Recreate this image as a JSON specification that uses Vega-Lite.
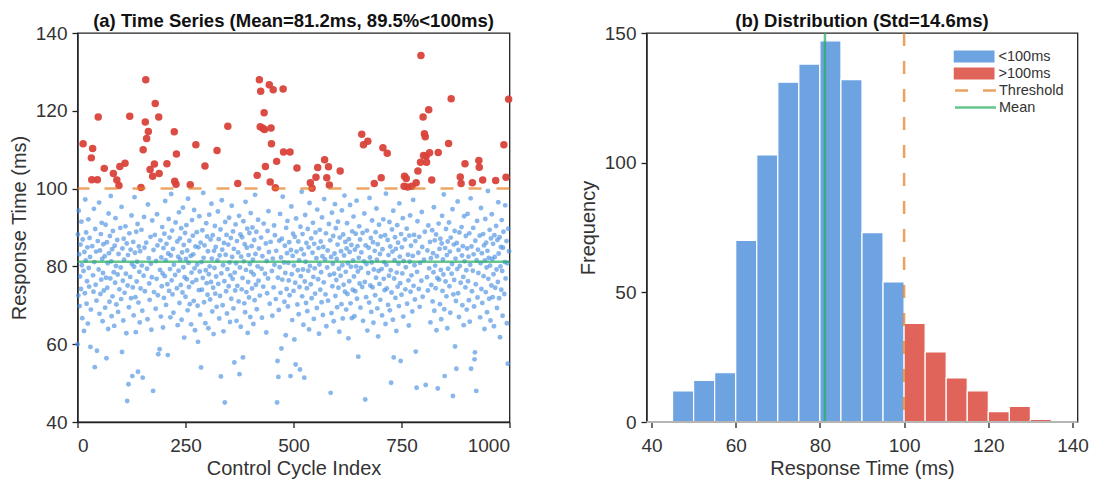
{
"$schema": "https://vega.github.io/schema/vega-lite/v6.json",
"autosize": {"type": "pad"},
"padding": {"left": 8.5, "top": 11, "right": 5, "bottom": 0},
"background": "white",
"config": {
 "font": "Liberation Sans",
 "view": {"stroke": "#222222", "strokeWidth": 1.3},
 "axis": {"labelFont": "Liberation Sans", "labelFontSize": 19, "labelColor": "#333333", "titleFont": "Liberation Sans", "titleFontSize": 20, "titleFontWeight": "normal", "titleColor": "#333333", "tickColor": "#222222", "domainColor": "#222222", "tickSize": 5.5, "tickWidth": 1.3, "domainWidth": 1.3, "labelPadding": 5, "grid": false, "titlePadding": 6},
 "axisX": {"labelPadding": 9, "titlePadding": 3},
 "title": {"font": "Liberation Sans", "fontSize": 18.5, "fontWeight": "bold", "color": "#111111", "offset": -6.5, "frame": "group"},
 "legend": {"padding": 0}
},
"datasets": {
"hist": [
{"b0":45,"b1":50,"n":12,"g":"<100ms"},{"b0":50,"b1":55,"n":16,"g":"<100ms"},{"b0":55,"b1":60,"n":19,"g":"<100ms"},{"b0":60,"b1":65,"n":70,"g":"<100ms"},{"b0":65,"b1":70,"n":103,"g":"<100ms"},{"b0":70,"b1":75,"n":131,"g":"<100ms"},{"b0":75,"b1":80,"n":138,"g":"<100ms"},{"b0":80,"b1":85,"n":147,"g":"<100ms"},{"b0":85,"b1":90,"n":132,"g":"<100ms"},{"b0":90,"b1":95,"n":73,"g":"<100ms"},{"b0":95,"b1":100,"n":54,"g":"<100ms"},{"b0":100,"b1":105,"n":38,"g":">100ms"},{"b0":105,"b1":110,"n":27,"g":">100ms"},{"b0":110,"b1":115,"n":17,"g":">100ms"},{"b0":115,"b1":120,"n":12,"g":">100ms"},{"b0":120,"b1":125,"n":4,"g":">100ms"},{"b0":125,"b1":130,"n":6,"g":">100ms"},{"b0":130,"b1":135,"n":1,"g":">100ms"}
],
"ts": [
{"x":0,"y":60},{"x":1,"y":88.2},{"x":2,"y":72.5},{"x":3,"y":94.3},{"x":4,"y":83.1},{"x":5,"y":69.8},{"x":6,"y":77.4},{"x":7,"y":85.6},{"x":8,"y":74.2},{"x":9,"y":91.5},{"x":10,"y":80.3},{"x":11,"y":66.7},{"x":12,"y":86.9},{"x":13,"y":111.5},{"x":14,"y":78.8},{"x":15,"y":63.4},{"x":16,"y":83.7},{"x":17,"y":73.1},{"x":18,"y":97.2},{"x":19,"y":81.5},
{"x":20,"y":88.7},{"x":21,"y":70.4},{"x":22,"y":76.2},{"x":23,"y":84.9},{"x":24,"y":65.3},{"x":25,"y":92.1},{"x":26,"y":79.6},{"x":27,"y":74.8},{"x":28,"y":87.3},{"x":29,"y":82.4},{"x":30,"y":59.3},{"x":31,"y":68.9},{"x":32,"y":107.9},{"x":33,"y":102.3},{"x":34,"y":85.2},{"x":35,"y":110.3},{"x":36,"y":77.7},{"x":37,"y":73.5},{"x":38,"y":94.8},{"x":39,"y":81.1},
{"x":40,"y":54.1},{"x":41,"y":89.6},{"x":42,"y":75.3},{"x":43,"y":83.8},{"x":44,"y":71.2},{"x":45,"y":58.3},{"x":46,"y":102.3},{"x":47,"y":86.5},{"x":48,"y":118.4},{"x":49,"y":79.2},{"x":50,"y":96.4},{"x":51,"y":67.8},{"x":52,"y":84.1},{"x":53,"y":72.9},{"x":54,"y":88.3},{"x":55,"y":76.6},{"x":56,"y":91.2},{"x":57,"y":81.9},{"x":58,"y":65.9},{"x":59,"y":78.3},
{"x":60,"y":85.7},{"x":61,"y":73.8},{"x":62,"y":105.2},{"x":63,"y":82.6},{"x":64,"y":69.4},{"x":65,"y":90.7},{"x":66,"y":77.1},{"x":67,"y":56.4},{"x":68,"y":86.2},{"x":69,"y":74.5},{"x":70,"y":80.8},{"x":71,"y":63.9},{"x":72,"y":93.6},{"x":73,"y":83.4},{"x":74,"y":70.9},{"x":75,"y":87.8},{"x":76,"y":76.9},{"x":77,"y":98.1},{"x":78,"y":81.3},{"x":79,"y":67.2},
{"x":80,"y":84.4},{"x":81,"y":72.3},{"x":82,"y":89.1},{"x":83,"y":103.9},{"x":84,"y":78.5},{"x":85,"y":64.7},{"x":86,"y":85.3},{"x":87,"y":75.8},{"x":88,"y":92.4},{"x":89,"y":80.1},{"x":90,"y":70.2},{"x":91,"y":102.2},{"x":92,"y":86.8},{"x":93,"y":77.9},{"x":94,"y":68.3},{"x":95,"y":83.2},{"x":96,"y":100.8},{"x":97,"y":74.1},{"x":98,"y":105.7},{"x":99,"y":89.9},
{"x":100,"y":79.7},{"x":101,"y":71.6},{"x":102,"y":95.3},{"x":103,"y":58},{"x":104,"y":84.6},{"x":105,"y":76.3},{"x":106,"y":66.1},{"x":107,"y":87.1},{"x":108,"y":81.7},{"x":109,"y":73.2},{"x":110,"y":106.5},{"x":111,"y":90.3},{"x":112,"y":78.1},{"x":113,"y":62.8},{"x":114,"y":85.9},{"x":115,"y":45.4},{"x":116,"y":75.1},{"x":117,"y":82.9},{"x":118,"y":49.7},{"x":119,"y":69.5},
{"x":120,"y":88.5},{"x":121,"y":118.6},{"x":122,"y":77.3},{"x":123,"y":84.3},{"x":124,"y":71.8},{"x":125,"y":93.1},{"x":126,"y":80.6},{"x":127,"y":51.8},{"x":128,"y":74.6},{"x":129,"y":86.3},{"x":130,"y":67.4},{"x":131,"y":79.9},{"x":132,"y":97.8},{"x":133,"y":83.5},{"x":134,"y":72.1},{"x":135,"y":63.1},{"x":136,"y":88.9},{"x":137,"y":76.1},{"x":138,"y":81.2},{"x":139,"y":90.9},
{"x":140,"y":52.9},{"x":141,"y":70.7},{"x":142,"y":85.1},{"x":143,"y":78.6},{"x":144,"y":65.6},{"x":145,"y":83.9},{"x":146,"y":74.3},{"x":147,"y":100.3},{"x":148,"y":89.4},{"x":149,"y":80.2},{"x":150,"y":68.6},{"x":151,"y":51.4},{"x":152,"y":110},{"x":153,"y":77.6},{"x":154,"y":92.7},{"x":155,"y":84.8},{"x":156,"y":73.6},{"x":157,"y":117.1},{"x":158,"y":128},{"x":159,"y":86.1},
{"x":160,"y":112.9},{"x":161,"y":79.4},{"x":162,"y":66.4},{"x":163,"y":95.9},{"x":164,"y":114.7},{"x":165,"y":82.1},{"x":166,"y":75.6},{"x":167,"y":71.4},{"x":168,"y":104.9},{"x":169,"y":87.6},{"x":170,"y":80.7},{"x":171,"y":63.7},{"x":172,"y":77.2},{"x":173,"y":91.8},{"x":174,"y":103.2},{"x":175,"y":48},{"x":176,"y":84.2},{"x":177,"y":73.4},{"x":178,"y":106.3},{"x":179,"y":88.1},
{"x":180,"y":121.9},{"x":181,"y":69.1},{"x":182,"y":81.4},{"x":183,"y":76.8},{"x":184,"y":93.4},{"x":185,"y":85.4},{"x":186,"y":72.6},{"x":187,"y":57.4},{"x":188,"y":118.4},{"x":189,"y":103.9},{"x":190,"y":58.7},{"x":191,"y":79.1},{"x":192,"y":86.7},{"x":193,"y":67.1},{"x":194,"y":82.3},{"x":195,"y":74.9},{"x":196,"y":90.1},{"x":197,"y":78.2},{"x":198,"y":64.3},{"x":199,"y":84.7},
{"x":200,"y":71.9},{"x":201,"y":88.4},{"x":202,"y":77.5},{"x":203,"y":96.8},{"x":204,"y":81.6},{"x":205,"y":70.1},{"x":206,"y":85.8},{"x":207,"y":106.4},{"x":208,"y":75.4},{"x":209,"y":57.2},{"x":210,"y":83.3},{"x":211,"y":92.2},{"x":212,"y":73.7},{"x":213,"y":87.4},{"x":214,"y":79.3},{"x":215,"y":66.9},{"x":216,"y":82.8},{"x":217,"y":98.6},{"x":218,"y":76.4},{"x":219,"y":89.2},
{"x":220,"y":72.8},{"x":221,"y":84.5},{"x":222,"y":68.1},{"x":223,"y":80.4},{"x":224,"y":114.6},{"x":225,"y":101.9},{"x":226,"y":77.8},{"x":227,"y":91.3},{"x":228,"y":101.1},{"x":229,"y":108.9},{"x":230,"y":74.4},{"x":231,"y":86.4},{"x":232,"y":64.9},{"x":233,"y":82.5},{"x":234,"y":78.9},{"x":235,"y":93.9},{"x":236,"y":70.6},{"x":237,"y":87.2},{"x":238,"y":81.8},{"x":239,"y":75.2},
{"x":240,"y":89.8},{"x":241,"y":66.3},{"x":242,"y":83.6},{"x":243,"y":73.3},{"x":244,"y":95.1},{"x":245,"y":79.8},{"x":246,"y":85.5},{"x":247,"y":61.7},{"x":248,"y":77.2},{"x":249,"y":88.6},{"x":250,"y":72.2},{"x":251,"y":81.9},{"x":252,"y":90.6},{"x":253,"y":76.7},{"x":254,"y":84.1},{"x":255,"y":68.7},{"x":256,"y":97.4},{"x":257,"y":80.9},{"x":258,"y":74.7},{"x":259,"y":86.6},
{"x":260,"y":70.3},{"x":261,"y":101},{"x":262,"y":82.7},{"x":263,"y":65.1},{"x":264,"y":78.4},{"x":265,"y":91.9},{"x":266,"y":75.9},{"x":267,"y":87.9},{"x":268,"y":83.1},{"x":269,"y":71.1},{"x":270,"y":94.5},{"x":271,"y":79.5},{"x":272,"y":63.6},{"x":273,"y":85.1},{"x":274,"y":111.3},{"x":275,"y":76.5},{"x":276,"y":88.8},{"x":277,"y":80.5},{"x":278,"y":69.9},{"x":279,"y":60.6},
{"x":280,"y":84.9},{"x":281,"y":73.9},{"x":282,"y":92.9},{"x":283,"y":78.7},{"x":284,"y":67.6},{"x":285,"y":86.1},{"x":286,"y":54},{"x":287,"y":81.1},{"x":288,"y":74},{"x":289,"y":89.3},{"x":290,"y":77},{"x":291,"y":98.9},{"x":292,"y":82.2},{"x":293,"y":70.8},{"x":294,"y":85.4},{"x":295,"y":105.8},{"x":296,"y":65.4},{"x":297,"y":79},{"x":298,"y":91.1},{"x":299,"y":75.7},
{"x":300,"y":87.7},{"x":301,"y":72.7},{"x":302,"y":83.9},{"x":303,"y":64.1},{"x":304,"y":78},{"x":305,"y":93.3},{"x":306,"y":80},{"x":307,"y":71.5},{"x":308,"y":86.9},{"x":309,"y":76},{"x":310,"y":96.1},{"x":311,"y":82},{"x":312,"y":68.4},{"x":313,"y":88},{"x":314,"y":74.5},{"x":315,"y":62.6},{"x":316,"y":84},{"x":317,"y":79.6},{"x":318,"y":90.4},{"x":319,"y":73},
{"x":320,"y":85},{"x":321,"y":77.4},{"x":322,"y":69.6},{"x":323,"y":109.8},{"x":324,"y":81.5},{"x":325,"y":94.1},{"x":326,"y":75.5},{"x":327,"y":87},{"x":328,"y":66.6},{"x":329,"y":82.8},{"x":330,"y":72.4},{"x":331,"y":89.5},{"x":332,"y":51.7},{"x":333,"y":78.2},{"x":334,"y":97},{"x":335,"y":84.3},{"x":336,"y":70},{"x":337,"y":80.3},{"x":338,"y":63.3},{"x":339,"y":86},
{"x":340,"y":76.2},{"x":341,"y":45},{"x":342,"y":91.4},{"x":343,"y":83},{"x":344,"y":73.6},{"x":345,"y":88.1},{"x":346,"y":67.9},{"x":347,"y":79.3},{"x":348,"y":116},{"x":349,"y":85.6},{"x":350,"y":74.9},{"x":351,"y":92.5},{"x":352,"y":81},{"x":353,"y":65.7},{"x":354,"y":77.7},{"x":355,"y":87.3},{"x":356,"y":71.7},{"x":357,"y":95.6},{"x":358,"y":82.4},{"x":359,"y":76.8},
{"x":360,"y":89},{"x":361,"y":69.2},{"x":362,"y":84.5},{"x":363,"y":55.3},{"x":364,"y":78.4},{"x":365,"y":73.8},{"x":366,"y":90.8},{"x":367,"y":80.8},{"x":368,"y":66},{"x":369,"y":86.5},{"x":370,"y":75},{"x":371,"y":101.3},{"x":372,"y":83.6},{"x":373,"y":71},{"x":374,"y":93},{"x":375,"y":52.3},{"x":376,"y":79.7},{"x":377,"y":88.2},{"x":378,"y":64.5},{"x":379,"y":82.5},
{"x":380,"y":74.1},{"x":381,"y":87.5},{"x":382,"y":77},{"x":383,"y":56.6},{"x":384,"y":91.6},{"x":385,"y":81.3},{"x":386,"y":70.5},{"x":387,"y":85.7},{"x":388,"y":68.2},{"x":389,"y":96.6},{"x":390,"y":79.1},{"x":391,"y":73.4},{"x":392,"y":84.8},{"x":393,"y":89.7},{"x":394,"y":62.9},{"x":395,"y":76},{"x":396,"y":82.9},{"x":397,"y":72},{"x":398,"y":88.6},{"x":399,"y":80.6},
{"x":400,"y":67},{"x":401,"y":93.7},{"x":402,"y":78.6},{"x":403,"y":85.2},{"x":404,"y":74.3},{"x":405,"y":90},{"x":406,"y":81.7},{"x":407,"y":65.2},{"x":408,"y":77.9},{"x":409,"y":86.8},{"x":410,"y":71.3},{"x":411,"y":98.4},{"x":412,"y":83.2},{"x":413,"y":75.3},{"x":414,"y":88.9},{"x":415,"y":69},{"x":416,"y":103.4},{"x":417,"y":80},{"x":418,"y":92},{"x":419,"y":76.3},
{"x":420,"y":84.6},{"x":421,"y":128},{"x":422,"y":72.5},{"x":423,"y":115.9},{"x":424,"y":125},{"x":425,"y":87.4},{"x":426,"y":79.4},{"x":427,"y":66.8},{"x":428,"y":82.6},{"x":429,"y":115.5},{"x":430,"y":74.8},{"x":431,"y":91},{"x":432,"y":119.5},{"x":433,"y":115.2},{"x":434,"y":78.1},{"x":435,"y":105.7},{"x":436,"y":85.9},{"x":437,"y":63},{"x":438,"y":81.4},{"x":439,"y":73.1},
{"x":440,"y":89.1},{"x":441,"y":76.9},{"x":442,"y":94.2},{"x":443,"y":83.7},{"x":444,"y":126.7},{"x":445,"y":70.4},{"x":446,"y":101.7},{"x":447,"y":86.3},{"x":448,"y":115.6},{"x":449,"y":111.5},{"x":450,"y":78.8},{"x":451,"y":67.3},{"x":452,"y":82},{"x":453,"y":125.4},{"x":454,"y":74.6},{"x":455,"y":90.5},{"x":456,"y":80.4},{"x":457,"y":88},{"x":458,"y":100.2},{"x":459,"y":71.6},
{"x":460,"y":84},{"x":461,"y":107},{"x":462,"y":45},{"x":463,"y":55.7},{"x":464,"y":77.1},{"x":465,"y":51.6},{"x":466,"y":68.8},{"x":467,"y":86.6},{"x":468,"y":79.8},{"x":469,"y":93.5},{"x":470,"y":73.2},{"x":471,"y":82.3},{"x":472,"y":58.9},{"x":473,"y":87.1},{"x":474,"y":76.6},{"x":475,"y":97.9},{"x":476,"y":125.6},{"x":477,"y":109.4},{"x":478,"y":81},{"x":479,"y":70.9},
{"x":480,"y":85.3},{"x":481,"y":78.3},{"x":482,"y":62.3},{"x":483,"y":89.9},{"x":484,"y":74.2},{"x":485,"y":83.4},{"x":486,"y":91.7},{"x":487,"y":69.7},{"x":488,"y":80.9},{"x":489,"y":76.4},{"x":490,"y":86.2},{"x":491,"y":72.6},{"x":492,"y":109.4},{"x":493,"y":51.8},{"x":494,"y":84.2},{"x":495,"y":95.4},{"x":496,"y":78},{"x":497,"y":66.2},{"x":498,"y":82.7},{"x":499,"y":88.4},
{"x":500,"y":73.7},{"x":501,"y":80.2},{"x":502,"y":61.2},{"x":503,"y":87.6},{"x":504,"y":75.8},{"x":505,"y":54.8},{"x":506,"y":92.3},{"x":507,"y":83.8},{"x":508,"y":105.3},{"x":509,"y":70.2},{"x":510,"y":79},{"x":511,"y":86.4},{"x":512,"y":67.7},{"x":513,"y":81.6},{"x":514,"y":74.7},{"x":515,"y":53.5},{"x":516,"y":90.2},{"x":517,"y":77.5},{"x":518,"y":84.4},{"x":519,"y":99.2},
{"x":520,"y":72.3},{"x":521,"y":88.3},{"x":522,"y":79.2},{"x":523,"y":65},{"x":524,"y":83.1},{"x":525,"y":51.4},{"x":526,"y":76.1},{"x":527,"y":93.2},{"x":528,"y":81.2},{"x":529,"y":70.6},{"x":530,"y":86},{"x":531,"y":74.4},{"x":532,"y":68.5},{"x":533,"y":89.6},{"x":534,"y":78.9},{"x":535,"y":84.9},{"x":536,"y":63.8},{"x":537,"y":96.3},{"x":538,"y":80.1},{"x":539,"y":101.5},
{"x":540,"y":75.4},{"x":541,"y":87.2},{"x":542,"y":71.8},{"x":543,"y":100.1},{"x":544,"y":83.5},{"x":545,"y":91.2},{"x":546,"y":77.3},{"x":547,"y":66.5},{"x":548,"y":85.8},{"x":549,"y":79.5},{"x":550,"y":73},{"x":551,"y":88.7},{"x":552,"y":102.9},{"x":553,"y":82.1},{"x":554,"y":69.3},{"x":555,"y":94.6},{"x":556,"y":105.4},{"x":557,"y":76.7},{"x":558,"y":84.7},{"x":559,"y":62.7},
{"x":560,"y":80.5},{"x":561,"y":89.4},{"x":562,"y":74},{"x":563,"y":86.4},{"x":564,"y":78.5},{"x":565,"y":70.8},{"x":566,"y":92.6},{"x":567,"y":82.6},{"x":568,"y":67.5},{"x":569,"y":85},{"x":570,"y":75.9},{"x":571,"y":97.3},{"x":572,"y":107.4},{"x":573,"y":81.8},{"x":574,"y":72.8},{"x":575,"y":88.5},{"x":576,"y":64.6},{"x":577,"y":102.8},{"x":578,"y":79.7},{"x":579,"y":84.1},
{"x":580,"y":71.2},{"x":581,"y":105.6},{"x":582,"y":90.9},{"x":583,"y":100.9},{"x":584,"y":77.8},{"x":585,"y":86.7},{"x":586,"y":47.5},{"x":587,"y":82.4},{"x":588,"y":68},{"x":589,"y":93.8},{"x":590,"y":74.9},{"x":591,"y":80.7},{"x":592,"y":87.8},{"x":593,"y":65.9},{"x":594,"y":78.1},{"x":595,"y":83.3},{"x":596,"y":96},{"x":597,"y":72.4},{"x":598,"y":89.8},{"x":599,"y":76.5},
{"x":600,"y":81.9},{"x":601,"y":69.5},{"x":602,"y":85.6},{"x":603,"y":91.5},{"x":604,"y":74.5},{"x":605,"y":79.4},{"x":606,"y":63.2},{"x":607,"y":87.4},{"x":608,"y":104.5},{"x":609,"y":77.6},{"x":610,"y":83.9},{"x":611,"y":70.3},{"x":612,"y":94.4},{"x":613,"y":80.3},{"x":614,"y":66.6},{"x":615,"y":88.2},{"x":616,"y":75.3},{"x":617,"y":82.8},{"x":618,"y":98.2},{"x":619,"y":73.5},
{"x":620,"y":86.3},{"x":621,"y":78.6},{"x":622,"y":68.9},{"x":623,"y":84.6},{"x":624,"y":91.1},{"x":625,"y":72.9},{"x":626,"y":80.8},{"x":627,"y":61.5},{"x":628,"y":87},{"x":629,"y":76.2},{"x":630,"y":83.7},{"x":631,"y":95.8},{"x":632,"y":70.5},{"x":633,"y":79.9},{"x":634,"y":85.5},{"x":635,"y":66.7},{"x":636,"y":89},{"x":637,"y":74},{"x":638,"y":81.5},{"x":639,"y":92.8},
{"x":640,"y":77.4},{"x":641,"y":67.2},{"x":642,"y":84.3},{"x":643,"y":73.6},{"x":644,"y":88.4},{"x":645,"y":80},{"x":646,"y":96.9},{"x":647,"y":71.7},{"x":648,"y":85.2},{"x":649,"y":78.7},{"x":650,"y":56.8},{"x":651,"y":82.2},{"x":652,"y":90.3},{"x":653,"y":75.6},{"x":654,"y":86.9},{"x":655,"y":69.4},{"x":656,"y":79.6},{"x":657,"y":83.6},{"x":658,"y":114},{"x":659,"y":74.7},
{"x":660,"y":88.6},{"x":661,"y":66},{"x":662,"y":111.3},{"x":663,"y":81.3},{"x":664,"y":93.6},{"x":665,"y":76},{"x":666,"y":45.8},{"x":667,"y":85.4},{"x":668,"y":72.1},{"x":669,"y":80.6},{"x":670,"y":89.2},{"x":671,"y":63.5},{"x":672,"y":112.2},{"x":673,"y":78.3},{"x":674,"y":84.8},{"x":675,"y":70.7},{"x":676,"y":97.6},{"x":677,"y":82.3},{"x":678,"y":75.1},{"x":679,"y":87.3},
{"x":680,"y":68.3},{"x":681,"y":81},{"x":682,"y":91.8},{"x":683,"y":74.6},{"x":684,"y":86.2},{"x":685,"y":65.5},{"x":686,"y":79.2},{"x":687,"y":101.3},{"x":688,"y":84},{"x":689,"y":72.6},{"x":690,"y":88.8},{"x":691,"y":77.1},{"x":692,"y":94.9},{"x":693,"y":81.7},{"x":694,"y":69.2},{"x":695,"y":85.7},{"x":696,"y":62},{"x":697,"y":78.8},{"x":698,"y":90.7},{"x":699,"y":75.5},
{"x":700,"y":83.2},{"x":701,"y":71.4},{"x":702,"y":87.7},{"x":703,"y":102.8},{"x":704,"y":79.3},{"x":705,"y":67.4},{"x":706,"y":84.4},{"x":707,"y":110.5},{"x":708,"y":92.1},{"x":709,"y":76.8},{"x":710,"y":81.1},{"x":711,"y":73.9},{"x":712,"y":88},{"x":713,"y":65.2},{"x":714,"y":98.7},{"x":715,"y":80.4},{"x":716,"y":74.3},{"x":717,"y":109.1},{"x":718,"y":86.8},{"x":719,"y":70.1},
{"x":720,"y":82.9},{"x":721,"y":77.6},{"x":722,"y":91.4},{"x":723,"y":68.7},{"x":724,"y":85.1},{"x":725,"y":79},{"x":726,"y":50.1},{"x":727,"y":73.3},{"x":728,"y":89.5},{"x":729,"y":83.8},{"x":730,"y":66.3},{"x":731,"y":94.3},{"x":732,"y":56.6},{"x":733,"y":76.9},{"x":734,"y":81.6},{"x":735,"y":87.5},{"x":736,"y":71.9},{"x":737,"y":84.5},{"x":738,"y":63.4},{"x":739,"y":78.4},
{"x":740,"y":90.6},{"x":741,"y":74.8},{"x":742,"y":86.1},{"x":743,"y":80.7},{"x":744,"y":69.8},{"x":745,"y":96.2},{"x":746,"y":82.5},{"x":747,"y":75.7},{"x":748,"y":55.7},{"x":749,"y":88.3},{"x":750,"y":72.7},{"x":751,"y":84.9},{"x":752,"y":78.2},{"x":753,"y":92.4},{"x":754,"y":67.1},{"x":755,"y":81.4},{"x":756,"y":100.6},{"x":757,"y":103.2},{"x":758,"y":86.9},{"x":759,"y":74.1},
{"x":760,"y":79.8},{"x":761,"y":102.6},{"x":762,"y":89.7},{"x":763,"y":70.4},{"x":764,"y":100.4},{"x":765,"y":83},{"x":766,"y":76.4},{"x":767,"y":64.8},{"x":768,"y":87.9},{"x":769,"y":81.2},{"x":770,"y":93.1},{"x":771,"y":73.5},{"x":772,"y":85.3},{"x":773,"y":77.7},{"x":774,"y":100.6},{"x":775,"y":68.4},{"x":776,"y":82.7},{"x":777,"y":97.1},{"x":778,"y":75},{"x":779,"y":88.1},
{"x":780,"y":80.3},{"x":781,"y":71.5},{"x":782,"y":86.5},{"x":783,"y":58.1},{"x":784,"y":101.5},{"x":785,"y":48.8},{"x":786,"y":78.6},{"x":787,"y":91.6},{"x":788,"y":104.5},{"x":789,"y":83.5},{"x":790,"y":74.2},{"x":791,"y":87.6},{"x":792,"y":69.6},{"x":793,"y":80.9},{"x":794,"y":106.8},{"x":795,"y":134.2},{"x":796,"y":76.3},{"x":797,"y":94},{"x":798,"y":85},{"x":799,"y":72.2},
{"x":800,"y":118.4},{"x":801,"y":108.5},{"x":802,"y":81.7},{"x":803,"y":114.1},{"x":804,"y":88.9},{"x":805,"y":113.3},{"x":806,"y":49.5},{"x":807,"y":108.3},{"x":808,"y":106.8},{"x":809,"y":77.2},{"x":810,"y":84.1},{"x":811,"y":73.8},{"x":812,"y":90.5},{"x":813,"y":120.3},{"x":814,"y":79.5},{"x":815,"y":109.2},{"x":816,"y":86.3},{"x":817,"y":65.6},{"x":818,"y":82.1},{"x":819,"y":75.2},
{"x":820,"y":102.2},{"x":821,"y":89.3},{"x":822,"y":71},{"x":823,"y":83.4},{"x":824,"y":78.5},{"x":825,"y":95.2},{"x":826,"y":68.6},{"x":827,"y":86.7},{"x":828,"y":80.2},{"x":829,"y":74.4},{"x":830,"y":88.2},{"x":831,"y":63.6},{"x":832,"y":82.6},{"x":833,"y":77},{"x":834,"y":48.6},{"x":835,"y":109.3},{"x":836,"y":91},{"x":837,"y":76.6},{"x":838,"y":84.5},{"x":839,"y":70.3},
{"x":840,"y":87.1},{"x":841,"y":79.1},{"x":842,"y":66.4},{"x":843,"y":85.9},{"x":844,"y":93},{"x":845,"y":73.7},{"x":846,"y":81.8},{"x":847,"y":77.9},{"x":848,"y":98.5},{"x":849,"y":69},{"x":850,"y":51.8},{"x":851,"y":84.7},{"x":852,"y":76.1},{"x":853,"y":89.6},{"x":854,"y":72.3},{"x":855,"y":82.9},{"x":856,"y":64.1},{"x":857,"y":86.4},{"x":858,"y":79.4},{"x":859,"y":111.6},
{"x":860,"y":91.3},{"x":861,"y":74.9},{"x":862,"y":83.8},{"x":863,"y":68.1},{"x":864,"y":87.4},{"x":865,"y":123.1},{"x":866,"y":78.1},{"x":867,"y":80.6},{"x":868,"y":94.7},{"x":869,"y":46.7},{"x":870,"y":72.8},{"x":871,"y":85.6},{"x":872,"y":76.5},{"x":873,"y":89.1},{"x":874,"y":59.4},{"x":875,"y":82},{"x":876,"y":71.1},{"x":877,"y":53.7},{"x":878,"y":86},{"x":879,"y":79.3},
{"x":880,"y":96.7},{"x":881,"y":73.1},{"x":882,"y":84.2},{"x":883,"y":67},{"x":884,"y":88.7},{"x":885,"y":80.1},{"x":886,"y":103},{"x":887,"y":75.8},{"x":888,"y":101.3},{"x":889,"y":90.1},{"x":890,"y":82.8},{"x":891,"y":70},{"x":892,"y":85.2},{"x":893,"y":77.3},{"x":894,"y":64.9},{"x":895,"y":92.9},{"x":896,"y":81.3},{"x":897,"y":106.4},{"x":898,"y":74.6},{"x":899,"y":87.8},
{"x":900,"y":79},{"x":901,"y":68.9},{"x":902,"y":84.6},{"x":903,"y":93.5},{"x":904,"y":76.2},{"x":905,"y":82.5},{"x":906,"y":71.3},{"x":907,"y":88.5},{"x":908,"y":65.8},{"x":909,"y":80.4},{"x":910,"y":97.5},{"x":911,"y":53.7},{"x":912,"y":85.1},{"x":913,"y":73.6},{"x":914,"y":101.5},{"x":915,"y":78.9},{"x":916,"y":89.9},{"x":917,"y":83.1},{"x":918,"y":69.7},{"x":919,"y":56.1},
{"x":920,"y":57.9},{"x":921,"y":86.6},{"x":922,"y":75.4},{"x":923,"y":48},{"x":924,"y":81.6},{"x":925,"y":91.7},{"x":926,"y":72},{"x":927,"y":84.3},{"x":928,"y":78.3},{"x":929,"y":107.2},{"x":930,"y":105.5},{"x":931,"y":87.9},{"x":932,"y":66.9},{"x":933,"y":80.8},{"x":934,"y":95},{"x":935,"y":74.2},{"x":936,"y":83.4},{"x":937,"y":70.6},{"x":938,"y":102.2},{"x":939,"y":88.3},
{"x":940,"y":77.5},{"x":941,"y":85.4},{"x":942,"y":63.9},{"x":943,"y":81.5},{"x":944,"y":92.2},{"x":945,"y":73.4},{"x":946,"y":86.1},{"x":947,"y":79.7},{"x":948,"y":68.2},{"x":949,"y":84},{"x":950,"y":99.4},{"x":951,"y":76.8},{"x":952,"y":82.2},{"x":953,"y":71.7},{"x":954,"y":89.4},{"x":955,"y":80.2},{"x":956,"y":66.1},{"x":957,"y":87.2},{"x":958,"y":75.1},{"x":959,"y":93.4},
{"x":960,"y":81.9},{"x":961,"y":72.1},{"x":962,"y":85.8},{"x":963,"y":78},{"x":964,"y":64.6},{"x":965,"y":88},{"x":966,"y":82.4},{"x":967,"y":74.5},{"x":968,"y":102.1},{"x":969,"y":90.4},{"x":970,"y":79.2},{"x":971,"y":69.3},{"x":972,"y":86.8},{"x":973,"y":76},{"x":974,"y":96.5},{"x":975,"y":83.3},{"x":976,"y":71.8},{"x":977,"y":87.5},{"x":978,"y":61.8},{"x":979,"y":80},
{"x":980,"y":85},{"x":981,"y":74},{"x":982,"y":91.9},{"x":983,"y":78.8},{"x":984,"y":67.3},{"x":985,"y":84.8},{"x":986,"y":88.9},{"x":987,"y":111.3},{"x":988,"y":72.9},{"x":989,"y":81.1},{"x":990,"y":95.7},{"x":991,"y":76.9},{"x":992,"y":102.9},{"x":993,"y":86.5},{"x":994,"y":65.4},{"x":995,"y":80.8},{"x":996,"y":55},{"x":997,"y":89.7},{"x":998,"y":123},{"x":999,"y":83.9}
],
"lines": [{"k":"Threshold","v":100},{"k":"Mean","v":81.2}]
},
"bounds": "flush",
"spacing": 137,
"resolve": {"scale": {"color": "independent", "stroke": "independent", "strokeDash": "independent"}, "legend": {"color": "independent", "stroke": "independent", "strokeDash": "independent"}},
"hconcat": [
{
 "width": 432, "height": 389,
 "title": {"text": "(a) Time Series (Mean=81.2ms, 89.5%<100ms)", "frame": "group"},
 "layer": [
  {"data": {"name": "ts"}, "transform": [{"filter": "datum.y <= 100"}],
   "mark": {"type": "circle", "size": 24, "color": "#4A90E2", "opacity": 0.65},
   "encoding": {
    "x": {"field": "x", "type": "quantitative", "scale": {"domain": [0, 1000], "nice": false}, "axis": {"title": "Control Cycle Index", "values": [0, 250, 500, 750, 1000], "format": "d"}},
    "y": {"field": "y", "type": "quantitative", "scale": {"domain": [40, 140], "nice": false, "zero": false}, "axis": {"title": "Response Time (ms)", "values": [40, 60, 80, 100, 120, 140]}}
   }},
  {"data": {"name": "ts"}, "transform": [{"filter": "datum.y > 100"}],
   "mark": {"type": "circle", "size": 56, "color": "#D9423A", "opacity": 0.95},
   "encoding": {"x": {"field": "x", "type": "quantitative"}, "y": {"field": "y", "type": "quantitative"}}},
  {"data": {"values": [{"t": 100}]},
   "mark": {"type": "rule", "color": "#E67E22", "opacity": 0.7, "strokeWidth": 2.5, "strokeDash": [13, 15]},
   "encoding": {"y": {"field": "t", "type": "quantitative"}}},
  {"data": {"values": [{"m": 81.2}]},
   "mark": {"type": "rule", "color": "#27AE60", "opacity": 0.7, "strokeWidth": 2.5},
   "encoding": {"y": {"field": "m", "type": "quantitative"}}}
 ]
},
{
 "width": 431, "height": 389,
 "title": {"text": "(b) Distribution (Std=14.6ms)", "frame": "group"},
 "layer": [
  {"data": {"name": "hist"},
   "mark": {"type": "bar", "orient": "vertical", "stroke": "white", "strokeWidth": 1.2},
   "encoding": {
    "x": {"field": "b0", "type": "quantitative", "scale": {"domain": [40, 140], "nice": false, "zero": false}, "axis": {"title": "Response Time (ms)", "values": [40, 60, 80, 100, 120, 140], "domain": false}},
    "x2": {"field": "b1"},
    "y": {"field": "n", "type": "quantitative", "scale": {"domain": [0, 150], "nice": false}, "axis": {"title": "Frequency", "values": [0, 50, 100, 150]}},
    "y2": {"datum": 0},
    "color": {"field": "g", "type": "nominal",
     "scale": {"domain": ["<100ms", ">100ms"], "range": ["#6EA3E1", "#E0645A"]},
     "legend": {"title": null, "orient": "none", "legendX": 307, "legendY": 15, "padding": 0, "labelFont": "Liberation Sans", "labelFontSize": 14.5, "labelColor": "#333333", "labelOffset": 4, "rowPadding": 0, "clipHeight": 17, "symbolSize": 1681, "symbolType": "M-1,-0.29H1V0.29H-1Z", "symbolStrokeWidth": 0, "symbolOpacity": 1}
    }
   }},
  {"data": {"name": "lines"},
   "mark": {"type": "rule", "opacity": 0.72, "strokeWidth": 2.5},
   "encoding": {
    "x": {"field": "v", "type": "quantitative"},
    "stroke": {"field": "k", "type": "nominal", "scale": {"domain": ["Threshold", "Mean"], "range": ["#E67E22", "#27AE60"]},
     "legend": {"title": null, "orient": "none", "legendX": 307, "legendY": 49, "padding": 0, "labelFont": "Liberation Sans", "labelFontSize": 14.5, "labelColor": "#333333", "labelOffset": 1.5, "rowPadding": 0, "clipHeight": 17, "symbolSize": 1681, "symbolStrokeWidth": 2.5}},
    "strokeDash": {"field": "k", "type": "nominal", "scale": {"domain": ["Threshold", "Mean"], "range": [[13, 15], [1, 0]]},
     "legend": {"title": null, "orient": "none", "legendX": 307, "legendY": 49, "padding": 0, "labelFont": "Liberation Sans", "labelFontSize": 14.5, "labelColor": "#333333", "labelOffset": 1.5, "rowPadding": 0, "clipHeight": 17, "symbolSize": 1681, "symbolStrokeWidth": 2.5}}
   }},
  {"data": {"values": [{"z": 0}]},
   "mark": {"type": "rule", "color": "#B5B5B5", "strokeWidth": 1.8},
   "encoding": {"y": {"field": "z", "type": "quantitative"}}}
 ]
}
]
}
